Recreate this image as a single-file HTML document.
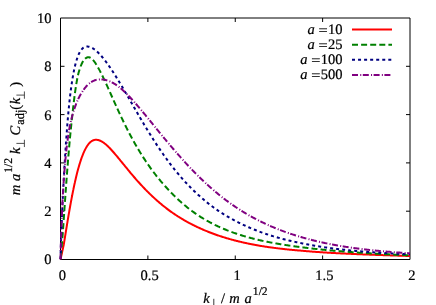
<!DOCTYPE html>
<html><head><meta charset="utf-8"><title>plot</title>
<style>
html,body{margin:0;padding:0;background:#fff;}
body{width:436px;height:305px;overflow:hidden;}
svg{display:block;will-change:transform;}
text{font-family:"Liberation Serif",serif;font-size:14.5px;fill:#000;text-rendering:geometricPrecision;stroke:#000;stroke-width:0.22px;}
.i{font-style:italic;}
.s{font-size:11.6px;}
</style></head><body>
<svg width="436" height="305" viewBox="0 0 436 305">
<rect width="436" height="305" fill="#fff"/>
<g stroke="#000" stroke-width="1" fill="none">
<path d="M60.5 18 H410 V259.5 H60.5 Z"/>
<path d="M147.88 259.5 v-4 M147.88 18 v4"/>
<path d="M235.25 259.5 v-4 M235.25 18 v4"/>
<path d="M322.62 259.5 v-4 M322.62 18 v4"/>
<path d="M60.5 211.20 h4 M410 211.20 h-4"/>
<path d="M60.5 162.90 h4 M410 162.90 h-4"/>
<path d="M60.5 114.60 h4 M410 114.60 h-4"/>
<path d="M60.5 66.30 h4 M410 66.30 h-4"/>
</g>
<g fill="none" stroke-width="2" stroke-linejoin="round">
<path d="M60.50 259.30 L60.62 258.81 L60.73 258.32 L60.85 257.82 L60.96 257.32 L61.08 256.81 L61.20 256.30 L61.31 255.79 L61.43 255.28 L61.54 254.76 L61.66 254.24 L61.78 253.72 L61.89 253.20 L62.01 252.67 L62.12 252.15 L62.24 251.62 L62.36 251.09 L62.47 250.56 L62.59 250.02 L62.71 249.49 L62.82 248.96 L62.94 248.42 L63.05 247.88 L63.17 247.34 L63.29 246.80 L63.40 246.26 L63.52 245.72 L63.63 245.18 L63.75 244.64 L63.85 244.09 L63.94 243.55 L64.03 243.00 L64.12 242.46 L64.20 241.91 L64.29 241.36 L64.38 240.82 L64.47 240.27 L64.56 239.72 L64.65 239.17 L64.74 238.63 L64.83 238.08 L64.91 237.53 L65.00 236.98 L65.09 236.43 L65.18 235.88 L65.27 235.34 L65.36 234.79 L65.45 234.24 L65.53 233.69 L65.62 233.14 L65.71 232.60 L65.80 232.05 L65.89 231.50 L65.98 230.96 L66.07 230.41 L66.16 229.86 L66.24 229.32 L66.33 228.77 L66.42 228.23 L66.51 227.69 L66.60 227.14 L66.69 226.60 L66.78 226.06 L66.86 225.52 L66.95 224.98 L67.04 224.44 L67.13 223.90 L67.22 223.36 L67.31 222.83 L67.40 222.29 L67.49 221.76 L67.57 221.22 L67.66 220.69 L67.75 220.16 L67.84 219.63 L67.93 219.10 L68.02 218.57 L68.11 218.04 L68.19 217.51 L68.28 216.99 L68.37 216.46 L68.46 215.94 L68.55 215.42 L68.64 214.90 L68.73 214.38 L68.82 213.86 L68.90 213.35 L68.99 212.83 L69.08 212.32 L69.17 211.81 L69.26 211.30 L69.35 210.79 L69.44 210.28 L69.52 209.78 L69.61 209.27 L69.70 208.77 L69.79 208.27 L69.88 207.77 L69.97 207.27 L70.06 206.77 L70.14 206.28 L70.23 205.78 L70.32 205.29 L70.41 204.80 L70.50 204.31 L70.59 203.83 L70.68 203.34 L70.77 202.86 L70.85 202.37 L70.94 201.89 L71.03 201.42 L71.12 200.94 L71.21 200.46 L71.30 199.99 L71.39 199.52 L71.47 199.05 L71.56 198.58 L71.65 198.11 L71.74 197.65 L71.83 197.19 L71.92 196.72 L72.01 196.26 L72.10 195.81 L72.18 195.35 L72.27 194.90 L72.36 194.44 L72.45 193.99 L72.54 193.55 L72.63 193.10 L72.72 192.65 L72.80 192.21 L72.89 191.77 L72.98 191.33 L73.07 190.89 L73.16 190.46 L73.25 190.02 L73.34 189.59 L73.43 189.16 L73.51 188.73 L73.60 188.31 L73.69 187.88 L73.78 187.46 L73.87 187.04 L73.96 186.62 L74.05 186.20 L74.13 185.79 L74.22 185.37 L74.31 184.96 L74.40 184.55 L74.49 184.15 L74.58 183.74 L74.67 183.34 L74.76 182.94 L74.84 182.54 L74.93 182.14 L75.02 181.74 L75.11 181.35 L75.20 180.96 L75.29 180.57 L75.38 180.18 L76.05 177.29 L76.72 174.52 L77.40 171.87 L78.07 169.34 L78.74 166.92 L79.41 164.62 L80.09 162.43 L80.76 160.35 L81.43 158.39 L82.10 156.53 L82.78 154.78 L83.45 153.15 L84.12 151.61 L84.79 150.19 L85.47 148.86 L86.14 147.64 L86.81 146.51 L87.48 145.48 L88.16 144.55 L88.83 143.70 L89.50 142.95 L90.17 142.28 L90.84 141.70 L91.52 141.21 L92.19 140.79 L92.86 140.45 L93.53 140.19 L94.21 139.99 L94.88 139.86 L95.55 139.80 L96.22 139.79 L96.90 139.85 L97.57 139.92 L98.24 140.05 L98.91 140.23 L99.59 140.46 L100.26 140.73 L100.93 141.05 L101.60 141.40 L102.28 141.80 L102.95 142.23 L103.62 142.69 L104.29 143.18 L104.96 143.71 L105.64 144.26 L106.31 144.84 L106.98 145.44 L107.65 146.07 L108.33 146.72 L109.00 147.38 L109.67 148.07 L110.34 148.77 L111.02 149.49 L111.69 150.22 L112.36 150.97 L113.03 151.72 L113.71 152.49 L114.38 153.26 L115.05 154.05 L115.72 154.84 L116.40 155.64 L117.07 156.44 L117.74 157.25 L118.41 158.07 L119.09 158.88 L119.76 159.70 L120.43 160.53 L121.10 161.35 L121.77 162.17 L122.45 162.99 L123.12 163.82 L123.79 164.64 L124.46 165.46 L125.14 166.28 L125.81 167.09 L126.48 167.92 L127.14 168.74 L127.81 169.56 L128.48 170.37 L129.14 171.18 L129.81 171.99 L130.47 172.79 L131.14 173.58 L131.81 174.38 L132.47 175.17 L133.14 175.95 L133.81 176.73 L134.47 177.50 L135.14 178.27 L135.81 179.04 L136.47 179.80 L137.14 180.55 L137.81 181.30 L138.47 182.04 L139.14 182.78 L139.80 183.51 L140.47 184.24 L141.14 184.96 L141.80 185.68 L142.47 186.39 L143.14 187.10 L143.80 187.80 L144.47 188.49 L145.14 189.18 L145.80 189.87 L146.47 190.54 L147.13 191.22 L147.80 191.88 L148.47 192.54 L149.13 193.20 L149.80 193.85 L150.47 194.50 L151.13 195.14 L151.80 195.77 L152.47 196.40 L153.13 197.02 L153.80 197.64 L154.47 198.25 L155.13 198.86 L155.80 199.46 L156.46 200.05 L157.13 200.64 L157.80 201.23 L158.46 201.81 L159.13 202.38 L159.80 202.95 L160.46 203.51 L161.13 204.07 L161.80 204.62 L162.46 205.17 L163.13 205.71 L163.79 206.25 L164.46 206.78 L165.13 207.31 L165.79 207.83 L166.46 208.35 L167.13 208.86 L167.79 209.37 L168.46 209.87 L169.13 210.37 L169.79 210.86 L170.46 211.35 L171.13 211.83 L171.80 212.30 L172.48 212.77 L173.15 213.23 L173.82 213.69 L174.49 214.14 L175.17 214.59 L175.84 215.03 L176.51 215.47 L177.18 215.90 L177.85 216.34 L178.53 216.76 L179.20 217.18 L179.87 217.60 L180.54 218.01 L181.22 218.42 L181.89 218.83 L182.56 219.23 L183.23 219.62 L183.91 220.02 L184.58 220.40 L185.25 220.79 L185.92 221.17 L186.60 221.54 L187.27 221.92 L187.94 222.28 L188.61 222.65 L189.29 223.01 L189.96 223.37 L190.63 223.72 L191.30 224.07 L191.97 224.41 L192.65 224.76 L193.32 225.09 L193.99 225.43 L194.66 225.76 L195.34 226.09 L196.01 226.41 L196.68 226.73 L197.35 227.05 L198.03 227.36 L198.70 227.67 L199.37 227.98 L200.04 228.28 L200.71 228.58 L201.38 228.88 L202.05 229.18 L202.71 229.47 L203.38 229.77 L204.05 230.05 L204.71 230.34 L205.38 230.62 L206.05 230.90 L206.72 231.17 L207.38 231.45 L208.05 231.72 L208.72 231.98 L209.38 232.25 L210.05 232.51 L210.72 232.77 L211.38 233.02 L212.05 233.27 L212.72 233.52 L213.38 233.77 L214.05 234.01 L214.72 234.26 L215.38 234.50 L216.05 234.73 L216.72 234.97 L217.38 235.20 L218.05 235.43 L218.72 235.65 L219.38 235.88 L220.05 236.10 L220.72 236.32 L221.38 236.54 L222.05 236.75 L222.72 236.96 L223.38 237.17 L224.05 237.38 L224.72 237.58 L225.39 237.79 L226.05 237.99 L226.72 238.19 L227.39 238.38 L228.05 238.58 L228.72 238.77 L229.39 238.96 L230.05 239.15 L230.72 239.34 L231.39 239.52 L232.05 239.70 L232.72 239.88 L233.39 240.06 L234.05 240.24 L234.72 240.41 L235.39 240.58 L236.05 240.75 L236.72 240.92 L237.39 241.09 L238.05 241.25 L238.72 241.42 L239.39 241.58 L240.05 241.74 L240.72 241.90 L241.39 242.05 L242.05 242.21 L242.72 242.36 L243.39 242.51 L244.05 242.66 L244.72 242.81 L245.39 242.96 L246.06 243.10 L246.72 243.24 L247.39 243.38 L248.06 243.52 L248.72 243.66 L249.39 243.80 L250.06 243.94 L250.72 244.07 L251.39 244.20 L252.06 244.33 L252.72 244.46 L253.39 244.59 L254.06 244.72 L254.72 244.85 L255.39 244.97 L256.06 245.09 L256.72 245.21 L257.39 245.33 L258.06 245.45 L258.72 245.57 L259.39 245.69 L260.06 245.80 L260.73 245.91 L261.40 246.02 L262.08 246.13 L262.75 246.24 L263.42 246.34 L264.09 246.45 L264.76 246.55 L265.44 246.65 L266.11 246.75 L266.78 246.85 L267.45 246.95 L268.13 247.05 L268.80 247.14 L269.47 247.24 L270.14 247.33 L270.82 247.43 L271.49 247.52 L272.16 247.61 L272.83 247.70 L273.51 247.79 L274.18 247.88 L274.85 247.96 L275.52 248.05 L276.20 248.13 L276.87 248.22 L277.54 248.30 L278.21 248.38 L278.88 248.46 L279.56 248.54 L280.23 248.62 L280.90 248.70 L281.57 248.78 L282.25 248.86 L282.92 248.93 L283.59 249.01 L284.26 249.08 L284.94 249.15 L285.61 249.22 L286.28 249.30 L286.95 249.37 L287.63 249.44 L288.30 249.51 L288.97 249.57 L289.64 249.64 L290.32 249.71 L290.99 249.77 L291.66 249.84 L292.33 249.90 L293.01 249.97 L293.68 250.03 L294.35 250.09 L295.02 250.15 L295.69 250.21 L296.37 250.27 L297.04 250.33 L297.71 250.39 L298.38 250.45 L299.06 250.51 L299.73 250.56 L300.40 250.62 L301.07 250.68 L301.75 250.75 L302.42 250.81 L303.09 250.87 L303.76 250.92 L304.44 250.98 L305.11 251.04 L305.78 251.10 L306.45 251.15 L307.13 251.21 L307.80 251.26 L308.47 251.32 L309.14 251.37 L309.81 251.43 L310.49 251.48 L311.16 251.53 L311.83 251.58 L312.50 251.64 L313.18 251.69 L313.85 251.74 L314.52 251.79 L315.19 251.84 L315.87 251.88 L316.54 251.93 L317.21 251.98 L317.88 252.03 L318.56 252.08 L319.23 252.12 L319.90 252.17 L320.57 252.21 L321.25 252.26 L321.92 252.30 L322.59 252.35 L323.26 252.39 L323.93 252.43 L324.61 252.48 L325.28 252.52 L325.95 252.56 L326.62 252.60 L327.30 252.64 L327.97 252.68 L328.64 252.72 L329.31 252.76 L329.99 252.80 L330.66 252.84 L331.33 252.88 L332.00 252.92 L332.68 252.95 L333.35 252.99 L334.02 253.03 L334.69 253.07 L335.37 253.10 L336.04 253.14 L336.71 253.18 L337.38 253.21 L338.05 253.25 L338.73 253.28 L339.40 253.32 L340.07 253.35 L340.74 253.38 L341.42 253.42 L342.09 253.45 L342.76 253.49 L343.43 253.52 L344.11 253.55 L344.78 253.58 L345.45 253.62 L346.12 253.65 L346.80 253.68 L347.47 253.71 L348.14 253.74 L348.81 253.77 L349.49 253.81 L350.16 253.84 L350.83 253.87 L351.50 253.90 L352.17 253.93 L352.85 253.96 L353.52 253.99 L354.19 254.02 L354.86 254.05 L355.54 254.08 L356.21 254.10 L356.88 254.13 L357.55 254.16 L358.23 254.19 L358.90 254.22 L359.57 254.25 L360.24 254.28 L360.92 254.30 L361.59 254.33 L362.26 254.36 L362.93 254.39 L363.61 254.41 L364.28 254.44 L364.95 254.47 L365.62 254.49 L366.29 254.52 L366.97 254.55 L367.64 254.57 L368.31 254.60 L368.98 254.62 L369.66 254.65 L370.33 254.68 L371.00 254.70 L371.67 254.73 L372.35 254.75 L373.02 254.78 L373.69 254.80 L374.36 254.83 L375.04 254.85 L375.71 254.88 L376.38 254.90 L377.05 254.93 L377.73 254.95 L378.40 254.98 L379.07 255.00 L379.74 255.02 L380.42 255.05 L381.09 255.07 L381.76 255.10 L382.43 255.12 L383.10 255.14 L383.78 255.17 L384.45 255.19 L385.12 255.21 L385.79 255.24 L386.47 255.26 L387.14 255.28 L387.81 255.31 L388.48 255.33 L389.16 255.35 L389.83 255.37 L390.50 255.40 L391.17 255.42 L391.85 255.44 L392.52 255.46 L393.19 255.48 L393.86 255.51 L394.54 255.53 L395.21 255.55 L395.88 255.57 L396.55 255.59 L397.22 255.61 L397.90 255.64 L398.57 255.66 L399.24 255.68 L399.91 255.70 L400.59 255.72 L401.26 255.74 L401.93 255.76 L402.60 255.78 L403.28 255.80 L403.95 255.82 L404.62 255.84 L405.29 255.87 L405.97 255.89 L406.64 255.91 L407.31 255.93 L407.98 255.95 L408.66 255.97 L409.33 255.99 L410.00 256.01" stroke="#ff0000"/>
<path d="M60.50 259.30 L60.60 258.52 L60.70 257.65 L60.80 256.71 L60.89 255.73 L60.99 254.71 L61.09 253.65 L61.19 252.57 L61.29 251.46 L61.39 250.33 L61.48 249.18 L61.58 248.01 L61.68 246.82 L61.78 245.62 L61.88 244.40 L61.98 243.17 L62.08 241.93 L62.17 240.68 L62.27 239.42 L62.37 238.15 L62.47 236.88 L62.57 235.59 L62.67 234.30 L62.76 233.01 L62.86 231.71 L62.96 230.41 L63.06 229.10 L63.16 227.79 L63.26 226.48 L63.35 225.16 L63.44 223.85 L63.53 222.53 L63.62 221.21 L63.71 219.89 L63.80 218.57 L63.89 217.25 L63.98 215.93 L64.07 214.62 L64.16 213.30 L64.25 211.99 L64.34 210.67 L64.43 209.36 L64.52 208.05 L64.61 206.75 L64.70 205.44 L64.79 204.14 L64.88 202.85 L64.97 201.55 L65.06 200.26 L65.15 198.98 L65.24 197.69 L65.33 196.41 L65.42 195.14 L65.51 193.87 L65.60 192.60 L65.69 191.34 L65.78 190.09 L65.87 188.84 L65.96 187.59 L66.05 186.35 L66.14 185.11 L66.23 183.88 L66.32 182.66 L66.41 181.44 L66.50 180.22 L66.59 179.01 L66.68 177.81 L66.77 176.61 L66.86 175.42 L66.95 174.24 L67.04 173.06 L67.13 171.88 L67.22 170.72 L67.31 169.56 L67.40 168.40 L67.49 167.25 L67.58 166.11 L67.67 164.98 L67.75 163.85 L67.84 162.72 L67.93 161.61 L68.02 160.50 L68.11 159.40 L68.20 158.30 L68.29 157.21 L68.38 156.12 L68.47 155.05 L68.56 153.98 L68.65 152.91 L68.74 151.86 L68.83 150.81 L68.92 149.76 L69.01 148.73 L69.10 147.70 L69.19 146.67 L69.28 145.66 L69.37 144.65 L69.46 143.65 L69.55 142.65 L69.64 141.66 L69.73 140.68 L69.82 139.71 L69.91 138.74 L70.00 137.78 L70.09 136.82 L70.18 135.87 L70.27 134.93 L70.36 134.00 L70.45 133.07 L70.54 132.15 L70.63 131.24 L70.72 130.33 L70.81 129.43 L70.90 128.54 L70.99 127.66 L71.08 126.78 L71.17 125.91 L71.26 125.04 L71.35 124.18 L71.44 123.33 L71.53 122.49 L71.62 121.65 L71.71 120.82 L71.80 119.99 L71.89 119.18 L71.98 118.37 L72.07 117.56 L72.16 116.76 L72.25 115.97 L72.34 115.19 L72.43 114.41 L72.52 113.64 L72.60 112.88 L72.67 112.12 L72.75 111.37 L72.83 110.62 L72.91 109.89 L72.99 109.16 L73.07 108.43 L73.15 107.71 L73.23 107.00 L73.31 106.29 L73.39 105.60 L73.47 104.90 L73.55 104.22 L73.62 103.54 L73.70 102.86 L73.78 102.20 L73.86 101.53 L73.94 100.88 L74.02 100.23 L74.10 99.59 L74.18 98.95 L74.26 98.32 L74.34 97.70 L74.42 97.08 L74.49 96.47 L74.57 95.86 L74.65 95.26 L74.73 94.67 L75.34 90.32 L75.94 86.30 L76.55 82.61 L77.15 79.23 L77.76 76.15 L78.45 73.35 L79.16 70.83 L79.87 68.56 L80.58 66.54 L81.30 64.75 L82.01 63.19 L82.72 61.83 L83.43 60.67 L84.15 59.70 L84.86 58.91 L85.57 58.29 L86.29 57.82 L87.00 57.50 L87.71 57.32 L88.42 57.27 L89.07 57.33 L89.71 57.51 L90.35 57.79 L90.99 58.17 L91.63 58.65 L92.26 59.22 L92.90 59.87 L93.54 60.59 L94.18 61.39 L94.82 62.26 L95.46 63.18 L96.10 64.17 L96.74 65.21 L97.37 66.31 L98.01 67.45 L98.69 68.63 L99.36 69.86 L100.03 71.13 L100.70 72.43 L101.38 73.75 L102.05 75.11 L102.72 76.49 L103.39 77.90 L104.07 79.32 L104.75 80.76 L105.43 82.22 L106.11 83.69 L106.79 85.17 L107.47 86.67 L108.15 88.17 L108.83 89.68 L109.51 91.19 L110.19 92.71 L110.87 94.23 L111.55 95.76 L112.24 97.28 L112.92 98.80 L113.60 100.32 L114.28 101.84 L114.96 103.35 L115.64 104.86 L116.32 106.37 L117.00 107.86 L117.69 109.35 L118.37 110.84 L119.05 112.31 L119.73 113.78 L120.41 115.24 L121.09 116.68 L121.77 118.12 L122.46 119.55 L123.14 120.97 L123.82 122.37 L124.50 123.76 L125.18 125.15 L125.86 126.52 L126.54 127.87 L127.23 129.22 L127.91 130.55 L128.59 131.87 L129.27 133.18 L129.95 134.47 L130.63 135.75 L131.31 137.02 L131.99 138.28 L132.68 139.52 L133.36 140.76 L134.04 141.98 L134.72 143.19 L135.40 144.38 L136.08 145.57 L136.76 146.74 L137.45 147.90 L138.13 149.05 L138.81 150.19 L139.49 151.32 L140.17 152.43 L140.85 153.53 L141.53 154.63 L142.21 155.71 L142.90 156.78 L143.58 157.84 L144.26 158.89 L144.95 159.92 L145.63 160.95 L146.31 161.97 L147.00 162.97 L147.68 163.97 L148.36 164.95 L149.05 165.93 L149.73 166.89 L150.41 167.85 L151.09 168.79 L151.78 169.73 L152.46 170.65 L153.14 171.57 L153.83 172.48 L154.51 173.37 L155.19 174.26 L155.88 175.14 L156.56 176.01 L157.24 176.87 L157.93 177.72 L158.61 178.56 L159.29 179.39 L159.98 180.22 L160.66 181.03 L161.34 181.84 L162.03 182.64 L162.71 183.43 L163.39 184.21 L164.07 184.98 L164.76 185.75 L165.44 186.50 L166.12 187.25 L166.81 188.00 L167.49 188.73 L168.16 189.45 L168.82 190.17 L169.48 190.88 L170.14 191.58 L170.80 192.27 L171.47 192.96 L172.13 193.64 L172.79 194.31 L173.45 194.97 L174.11 195.63 L174.77 196.28 L175.43 196.93 L176.09 197.56 L176.75 198.19 L177.41 198.82 L178.07 199.44 L178.73 200.05 L179.39 200.65 L180.05 201.25 L180.71 201.84 L181.37 202.42 L182.03 203.00 L182.69 203.58 L183.35 204.14 L184.01 204.70 L184.67 205.26 L185.33 205.80 L185.99 206.35 L186.65 206.88 L187.31 207.41 L187.97 207.94 L188.63 208.46 L189.29 208.97 L189.95 209.48 L190.61 209.98 L191.27 210.48 L191.93 210.97 L192.59 211.45 L193.25 211.93 L193.91 212.41 L194.57 212.88 L195.23 213.34 L195.89 213.80 L196.55 214.25 L197.21 214.70 L197.87 215.14 L198.53 215.58 L199.19 216.02 L199.85 216.45 L200.51 216.87 L201.18 217.29 L201.85 217.70 L202.52 218.11 L203.19 218.51 L203.86 218.91 L204.53 219.31 L205.20 219.70 L205.87 220.08 L206.54 220.46 L207.21 220.84 L207.87 221.21 L208.54 221.58 L209.21 221.94 L209.88 222.30 L210.55 222.66 L211.22 223.01 L211.89 223.36 L212.56 223.70 L213.23 224.04 L213.90 224.38 L214.56 224.71 L215.23 225.04 L215.90 225.36 L216.57 225.68 L217.24 226.00 L217.91 226.31 L218.58 226.62 L219.25 226.93 L219.92 227.23 L220.59 227.53 L221.25 227.83 L221.92 228.12 L222.59 228.41 L223.26 228.69 L223.93 228.98 L224.60 229.26 L225.27 229.53 L225.94 229.80 L226.61 230.07 L227.28 230.34 L227.94 230.60 L228.61 230.86 L229.28 231.12 L229.95 231.38 L230.62 231.63 L231.29 231.88 L231.96 232.12 L232.63 232.36 L233.30 232.60 L233.97 232.84 L234.64 233.08 L235.30 233.31 L235.97 233.54 L236.64 233.76 L237.31 233.99 L237.98 234.21 L238.65 234.43 L239.32 234.65 L239.99 234.86 L240.66 235.07 L241.33 235.28 L241.99 235.49 L242.66 235.69 L243.33 235.89 L244.00 236.09 L244.67 236.29 L245.34 236.48 L246.01 236.68 L246.68 236.87 L247.35 237.06 L248.02 237.24 L248.68 237.43 L249.35 237.61 L250.02 237.79 L250.69 237.97 L251.36 238.14 L252.03 238.32 L252.70 238.49 L253.37 238.66 L254.04 238.83 L254.71 239.00 L255.37 239.16 L256.04 239.33 L256.71 239.49 L257.38 239.65 L258.05 239.81 L258.72 239.96 L259.39 240.12 L260.06 240.27 L260.73 240.42 L261.40 240.57 L262.08 240.72 L262.75 240.86 L263.42 241.01 L264.09 241.15 L264.76 241.29 L265.44 241.43 L266.11 241.57 L266.78 241.70 L267.45 241.84 L268.13 241.97 L268.80 242.11 L269.47 242.24 L270.14 242.37 L270.82 242.50 L271.49 242.62 L272.16 242.75 L272.83 242.87 L273.51 243.00 L274.18 243.12 L274.85 243.24 L275.52 243.36 L276.20 243.48 L276.87 243.60 L277.54 243.71 L278.21 243.83 L278.88 243.94 L279.56 244.06 L280.23 244.17 L280.90 244.28 L281.57 244.39 L282.25 244.50 L282.92 244.61 L283.59 244.71 L284.26 244.82 L284.94 244.92 L285.61 245.03 L286.28 245.13 L286.95 245.23 L287.63 245.33 L288.30 245.43 L288.97 245.53 L289.64 245.63 L290.32 245.73 L290.99 245.82 L291.66 245.92 L292.33 246.02 L293.01 246.11 L293.68 246.20 L294.35 246.29 L295.02 246.39 L295.69 246.48 L296.37 246.57 L297.04 246.65 L297.71 246.74 L298.38 246.83 L299.06 246.92 L299.73 247.00 L300.40 247.09 L301.07 247.18 L301.75 247.26 L302.42 247.35 L303.09 247.44 L303.76 247.52 L304.44 247.61 L305.11 247.69 L305.78 247.77 L306.45 247.86 L307.13 247.94 L307.80 248.02 L308.47 248.10 L309.14 248.18 L309.81 248.26 L310.49 248.34 L311.16 248.41 L311.83 248.49 L312.50 248.57 L313.18 248.64 L313.85 248.72 L314.52 248.79 L315.19 248.87 L315.87 248.94 L316.54 249.01 L317.21 249.08 L317.88 249.16 L318.56 249.23 L319.23 249.30 L319.90 249.37 L320.57 249.44 L321.25 249.51 L321.92 249.57 L322.59 249.64 L323.26 249.71 L323.93 249.78 L324.61 249.84 L325.28 249.91 L325.95 249.97 L326.62 250.04 L327.30 250.10 L327.97 250.17 L328.64 250.23 L329.31 250.29 L329.99 250.35 L330.66 250.42 L331.33 250.48 L332.00 250.54 L332.68 250.60 L333.35 250.66 L334.02 250.72 L334.69 250.78 L335.37 250.83 L336.04 250.89 L336.71 250.95 L337.38 251.01 L338.05 251.06 L338.73 251.12 L339.40 251.18 L340.07 251.23 L340.74 251.29 L341.42 251.34 L342.09 251.40 L342.76 251.45 L343.43 251.50 L344.11 251.56 L344.78 251.61 L345.45 251.66 L346.12 251.71 L346.80 251.77 L347.47 251.82 L348.14 251.87 L348.81 251.92 L349.49 251.97 L350.16 252.02 L350.83 252.07 L351.50 252.12 L352.17 252.16 L352.85 252.21 L353.52 252.26 L354.19 252.31 L354.86 252.36 L355.54 252.40 L356.21 252.45 L356.88 252.50 L357.55 252.54 L358.23 252.59 L358.90 252.63 L359.57 252.68 L360.24 252.72 L360.92 252.77 L361.59 252.81 L362.26 252.85 L362.93 252.90 L363.61 252.94 L364.28 252.98 L364.95 253.03 L365.62 253.07 L366.29 253.11 L366.97 253.15 L367.64 253.19 L368.31 253.23 L368.98 253.28 L369.66 253.32 L370.33 253.36 L371.00 253.40 L371.67 253.44 L372.35 253.47 L373.02 253.51 L373.69 253.55 L374.36 253.59 L375.04 253.63 L375.71 253.67 L376.38 253.71 L377.05 253.74 L377.73 253.78 L378.40 253.82 L379.07 253.85 L379.74 253.89 L380.42 253.93 L381.09 253.96 L381.76 254.00 L382.43 254.03 L383.10 254.07 L383.78 254.10 L384.45 254.14 L385.12 254.17 L385.79 254.21 L386.47 254.24 L387.14 254.27 L387.81 254.31 L388.48 254.34 L389.16 254.37 L389.83 254.41 L390.50 254.44 L391.17 254.47 L391.85 254.50 L392.52 254.53 L393.19 254.57 L393.86 254.60 L394.54 254.63 L395.21 254.66 L395.88 254.69 L396.55 254.72 L397.22 254.75 L397.90 254.78 L398.57 254.81 L399.24 254.84 L399.91 254.87 L400.59 254.90 L401.26 254.93 L401.93 254.96 L402.60 254.99 L403.28 255.01 L403.95 255.04 L404.62 255.07 L405.29 255.10 L405.97 255.13 L406.64 255.15 L407.31 255.18 L407.98 255.21 L408.66 255.23 L409.33 255.26 L410.00 255.29" stroke="#008000" stroke-dasharray="6 3.1" stroke-dashoffset="6.1"/>
<path d="M60.50 259.30 L60.58 255.91 L60.66 252.89 L60.74 250.07 L60.82 247.39 L60.90 244.81 L60.99 242.33 L61.07 239.92 L61.15 237.57 L61.23 235.28 L61.31 233.04 L61.39 230.84 L61.47 228.69 L61.55 226.57 L61.63 224.49 L61.71 222.44 L61.79 220.42 L61.88 218.43 L61.96 216.46 L62.04 214.52 L62.12 212.60 L62.20 210.71 L62.28 208.83 L62.36 206.98 L62.44 205.15 L62.52 203.33 L62.60 201.54 L62.68 199.76 L62.76 198.00 L62.85 196.25 L62.94 194.53 L63.03 192.81 L63.11 191.12 L63.20 189.43 L63.29 187.77 L63.38 186.12 L63.47 184.48 L63.55 182.85 L63.64 181.24 L63.73 179.65 L63.82 178.06 L63.90 176.49 L63.99 174.93 L64.08 173.39 L64.17 171.86 L64.26 170.34 L64.34 168.83 L64.43 167.34 L64.52 165.86 L64.61 164.39 L64.70 162.93 L64.78 161.49 L64.87 160.06 L64.96 158.64 L65.05 157.23 L65.14 155.83 L65.22 154.45 L65.31 153.07 L65.40 151.71 L65.49 150.37 L65.58 149.03 L65.66 147.70 L65.75 146.39 L65.84 145.09 L65.93 143.80 L66.02 142.52 L66.10 141.25 L66.19 140.00 L66.28 138.76 L66.37 137.52 L66.45 136.31 L66.54 135.10 L66.63 133.90 L66.72 132.72 L66.81 131.54 L66.89 130.38 L66.98 129.23 L67.07 128.10 L67.16 126.97 L67.25 125.86 L67.33 124.75 L67.42 123.66 L67.51 122.59 L67.60 121.52 L67.69 120.46 L67.77 119.42 L67.86 118.39 L67.95 117.37 L68.04 116.36 L68.13 115.36 L68.21 114.38 L68.30 113.40 L68.39 112.44 L68.48 111.48 L68.56 110.54 L68.65 109.61 L68.74 108.69 L68.83 107.78 L68.92 106.88 L69.00 105.99 L69.09 105.11 L69.18 104.24 L69.27 103.38 L69.36 102.53 L69.44 101.69 L69.53 100.86 L69.62 100.04 L69.71 99.23 L69.80 98.43 L69.89 97.64 L69.98 96.86 L70.07 96.09 L70.16 95.33 L70.25 94.58 L70.34 93.83 L70.44 93.10 L70.53 92.37 L70.62 91.65 L70.71 90.95 L70.80 90.25 L70.89 89.55 L70.98 88.87 L71.08 88.20 L71.17 87.53 L71.26 86.87 L71.35 86.22 L71.44 85.58 L71.53 84.94 L71.62 84.32 L71.72 83.70 L71.81 83.09 L71.90 82.48 L71.99 81.89 L72.08 81.30 L72.17 80.72 L72.26 80.14 L72.36 79.57 L72.45 79.01 L72.54 78.46 L72.63 77.92 L72.72 77.38 L72.81 76.85 L72.90 76.32 L73.00 75.80 L73.09 75.29 L73.18 74.79 L73.27 74.29 L73.36 73.80 L73.45 73.31 L73.54 72.83 L73.64 72.36 L73.73 71.89 L73.82 71.43 L73.91 70.98 L74.00 70.53 L74.09 70.09 L74.18 69.65 L74.28 69.22 L74.37 68.79 L74.46 68.37 L75.16 65.35 L75.86 62.64 L76.56 60.22 L77.26 58.05 L77.96 56.13 L78.65 54.44 L79.35 52.95 L80.05 51.66 L80.75 50.55 L81.45 49.61 L82.15 48.81 L82.84 48.16 L83.54 47.63 L84.24 47.22 L84.94 46.91 L85.63 46.70 L86.33 46.57 L87.03 46.53 L87.73 46.56 L88.42 46.66 L89.08 46.77 L89.72 46.93 L90.36 47.14 L91.01 47.39 L91.65 47.69 L92.30 48.02 L92.94 48.39 L93.59 48.80 L94.23 49.24 L94.87 49.72 L95.52 50.22 L96.16 50.76 L96.81 51.33 L97.45 51.92 L98.10 52.55 L98.74 53.19 L99.38 53.87 L100.03 54.56 L100.69 55.28 L101.35 56.02 L102.01 56.78 L102.67 57.56 L103.32 58.36 L103.98 59.19 L104.64 60.02 L105.30 60.88 L105.96 61.75 L106.62 62.64 L107.28 63.55 L107.94 64.47 L108.60 65.40 L109.26 66.35 L109.91 67.31 L110.57 68.29 L111.23 69.27 L111.89 70.27 L112.55 71.28 L113.21 72.31 L113.87 73.34 L114.53 74.38 L115.20 75.44 L115.89 76.52 L116.57 77.61 L117.26 78.71 L117.94 79.81 L118.62 80.92 L119.31 82.04 L119.99 83.17 L120.68 84.30 L121.36 85.44 L122.04 86.59 L122.73 87.74 L123.41 88.90 L124.09 90.06 L124.78 91.23 L125.46 92.40 L126.15 93.57 L126.83 94.75 L127.51 95.93 L128.20 97.12 L128.88 98.31 L129.57 99.50 L130.25 100.69 L130.93 101.88 L131.62 103.07 L132.30 104.26 L132.99 105.46 L133.67 106.65 L134.35 107.84 L135.04 109.03 L135.72 110.22 L136.41 111.40 L137.09 112.58 L137.77 113.76 L138.46 114.94 L139.14 116.12 L139.82 117.29 L140.51 118.45 L141.19 119.62 L141.88 120.78 L142.56 121.93 L143.24 123.08 L143.93 124.22 L144.61 125.36 L145.30 126.50 L145.98 127.63 L146.66 128.75 L147.35 129.87 L148.03 130.98 L148.72 132.09 L149.40 133.19 L150.08 134.28 L150.76 135.37 L151.43 136.45 L152.10 137.53 L152.78 138.59 L153.45 139.66 L154.12 140.71 L154.79 141.76 L155.47 142.80 L156.14 143.83 L156.81 144.86 L157.48 145.88 L158.16 146.89 L158.83 147.90 L159.50 148.90 L160.17 149.89 L160.85 150.87 L161.52 151.85 L162.19 152.82 L162.86 153.78 L163.53 154.74 L164.21 155.68 L164.88 156.62 L165.55 157.56 L166.22 158.49 L166.89 159.41 L167.56 160.33 L168.22 161.24 L168.89 162.14 L169.56 163.03 L170.23 163.92 L170.90 164.80 L171.57 165.67 L172.23 166.53 L172.90 167.39 L173.57 168.24 L174.24 169.08 L174.91 169.91 L175.58 170.74 L176.24 171.56 L176.91 172.38 L177.58 173.18 L178.25 173.98 L178.92 174.77 L179.59 175.56 L180.25 176.34 L180.92 177.11 L181.59 177.87 L182.26 178.63 L182.93 179.38 L183.60 180.12 L184.26 180.86 L184.93 181.59 L185.60 182.32 L186.27 183.03 L186.94 183.75 L187.61 184.45 L188.27 185.15 L188.94 185.84 L189.61 186.53 L190.28 187.21 L190.95 187.88 L191.62 188.55 L192.28 189.21 L192.95 189.87 L193.62 190.52 L194.29 191.16 L194.96 191.80 L195.63 192.43 L196.29 193.06 L196.96 193.68 L197.63 194.30 L198.30 194.91 L198.97 195.51 L199.64 196.11 L200.30 196.71 L200.97 197.30 L201.64 197.88 L202.31 198.46 L202.98 199.03 L203.65 199.60 L204.31 200.16 L204.98 200.72 L205.65 201.27 L206.32 201.82 L206.99 202.36 L207.66 202.90 L208.32 203.43 L208.99 203.96 L209.66 204.48 L210.33 205.00 L211.00 205.52 L211.67 206.02 L212.33 206.53 L213.00 207.03 L213.67 207.52 L214.34 208.02 L215.01 208.50 L215.68 208.97 L216.35 209.43 L217.03 209.89 L217.70 210.35 L218.37 210.80 L219.04 211.24 L219.72 211.69 L220.39 212.12 L221.06 212.56 L221.73 212.99 L222.40 213.41 L223.08 213.84 L223.75 214.25 L224.42 214.67 L225.09 215.08 L225.77 215.49 L226.44 215.89 L227.11 216.29 L227.78 216.68 L228.46 217.07 L229.13 217.46 L229.80 217.84 L230.47 218.22 L231.15 218.60 L231.82 218.98 L232.49 219.34 L233.16 219.71 L233.84 220.07 L234.51 220.43 L235.18 220.79 L235.85 221.14 L236.52 221.49 L237.20 221.84 L237.87 222.18 L238.54 222.52 L239.21 222.86 L239.89 223.19 L240.56 223.52 L241.23 223.85 L241.90 224.17 L242.58 224.49 L243.25 224.81 L243.92 225.12 L244.59 225.43 L245.27 225.74 L245.94 226.05 L246.61 226.35 L247.28 226.65 L247.96 226.95 L248.63 227.24 L249.30 227.53 L249.97 227.82 L250.64 228.11 L251.32 228.39 L251.99 228.67 L252.66 228.95 L253.33 229.23 L254.01 229.50 L254.68 229.77 L255.35 230.03 L256.02 230.30 L256.70 230.56 L257.37 230.82 L258.04 231.08 L258.71 231.33 L259.39 231.58 L260.06 231.83 L260.73 232.08 L261.40 232.32 L262.08 232.57 L262.75 232.81 L263.42 233.04 L264.09 233.28 L264.76 233.51 L265.44 233.74 L266.11 233.97 L266.78 234.20 L267.45 234.42 L268.13 234.64 L268.80 234.86 L269.47 235.08 L270.14 235.29 L270.82 235.51 L271.49 235.72 L272.16 235.92 L272.83 236.13 L273.51 236.34 L274.18 236.54 L274.85 236.74 L275.52 236.94 L276.20 237.13 L276.87 237.33 L277.54 237.52 L278.21 237.71 L278.88 237.90 L279.56 238.08 L280.23 238.27 L280.90 238.45 L281.57 238.63 L282.25 238.81 L282.92 238.99 L283.59 239.16 L284.26 239.34 L284.94 239.51 L285.61 239.68 L286.28 239.84 L286.95 240.01 L287.63 240.18 L288.30 240.34 L288.97 240.50 L289.64 240.66 L290.32 240.82 L290.99 240.97 L291.66 241.13 L292.33 241.28 L293.01 241.43 L293.68 241.58 L294.35 241.73 L295.02 241.88 L295.69 242.02 L296.37 242.17 L297.04 242.31 L297.71 242.45 L298.38 242.59 L299.06 242.73 L299.73 242.86 L300.40 243.00 L301.07 243.14 L301.75 243.28 L302.42 243.42 L303.09 243.56 L303.76 243.69 L304.44 243.83 L305.11 243.96 L305.78 244.09 L306.45 244.22 L307.13 244.35 L307.80 244.48 L308.47 244.60 L309.14 244.73 L309.81 244.85 L310.49 244.97 L311.16 245.10 L311.83 245.22 L312.50 245.33 L313.18 245.45 L313.85 245.57 L314.52 245.68 L315.19 245.80 L315.87 245.91 L316.54 246.02 L317.21 246.13 L317.88 246.24 L318.56 246.35 L319.23 246.46 L319.90 246.57 L320.57 246.67 L321.25 246.78 L321.92 246.88 L322.59 246.98 L323.26 247.08 L323.93 247.18 L324.61 247.28 L325.28 247.38 L325.95 247.48 L326.62 247.57 L327.30 247.67 L327.97 247.76 L328.64 247.86 L329.31 247.95 L329.99 248.04 L330.66 248.13 L331.33 248.22 L332.00 248.31 L332.68 248.40 L333.35 248.49 L334.02 248.57 L334.69 248.66 L335.37 248.74 L336.04 248.82 L336.71 248.91 L337.38 248.99 L338.05 249.07 L338.73 249.15 L339.40 249.23 L340.07 249.31 L340.74 249.39 L341.42 249.46 L342.09 249.54 L342.76 249.61 L343.43 249.69 L344.11 249.76 L344.78 249.84 L345.45 249.91 L346.12 249.98 L346.80 250.05 L347.47 250.12 L348.14 250.19 L348.81 250.26 L349.49 250.32 L350.16 250.39 L350.83 250.46 L351.50 250.52 L352.17 250.59 L352.85 250.65 L353.52 250.72 L354.19 250.78 L354.86 250.84 L355.54 250.90 L356.21 250.96 L356.88 251.02 L357.55 251.08 L358.23 251.14 L358.90 251.20 L359.57 251.26 L360.24 251.31 L360.92 251.37 L361.59 251.43 L362.26 251.48 L362.93 251.54 L363.61 251.59 L364.28 251.64 L364.95 251.70 L365.62 251.75 L366.29 251.80 L366.97 251.85 L367.64 251.90 L368.31 251.95 L368.98 252.00 L369.66 252.05 L370.33 252.10 L371.00 252.15 L371.67 252.19 L372.35 252.24 L373.02 252.29 L373.69 252.33 L374.36 252.38 L375.04 252.42 L375.71 252.47 L376.38 252.51 L377.05 252.55 L377.73 252.60 L378.40 252.64 L379.07 252.68 L379.74 252.72 L380.42 252.76 L381.09 252.80 L381.76 252.84 L382.43 252.88 L383.10 252.92 L383.78 252.96 L384.45 253.00 L385.12 253.04 L385.79 253.07 L386.47 253.11 L387.14 253.15 L387.81 253.18 L388.48 253.22 L389.16 253.25 L389.83 253.29 L390.50 253.32 L391.17 253.36 L391.85 253.39 L392.52 253.43 L393.19 253.46 L393.86 253.49 L394.54 253.52 L395.21 253.55 L395.88 253.59 L396.55 253.62 L397.22 253.65 L397.90 253.68 L398.57 253.71 L399.24 253.74 L399.91 253.77 L400.59 253.80 L401.26 253.83 L401.93 253.85 L402.60 253.88 L403.28 253.91 L403.95 253.94 L404.62 253.96 L405.29 253.99 L405.97 254.02 L406.64 254.04 L407.31 254.07 L407.98 254.10 L408.66 254.12 L409.33 254.15 L410.00 254.17" stroke="#000080" stroke-dasharray="3 3.05"/>
<path d="M60.50 259.30 L60.58 255.79 L60.66 252.55 L60.74 249.48 L60.82 246.54 L60.90 243.72 L60.99 241.00 L61.07 238.38 L61.15 235.83 L61.23 233.36 L61.31 230.97 L61.39 228.64 L61.47 226.37 L61.55 224.16 L61.63 222.01 L61.71 219.91 L61.79 217.86 L61.88 215.86 L61.96 213.90 L62.04 211.99 L62.12 210.12 L62.20 208.30 L62.28 206.51 L62.36 204.76 L62.44 203.04 L62.52 201.36 L62.60 199.72 L62.68 198.10 L62.76 196.52 L62.85 194.97 L62.94 193.45 L63.02 191.96 L63.11 190.49 L63.20 189.06 L63.28 187.65 L63.37 186.26 L63.46 184.90 L63.54 183.57 L63.63 182.26 L63.72 180.97 L63.80 179.70 L63.89 178.46 L63.98 177.24 L64.06 176.03 L64.15 174.85 L64.24 173.69 L64.32 172.55 L64.41 171.42 L64.50 170.32 L64.58 169.23 L64.67 168.16 L64.76 167.11 L64.84 166.07 L64.93 165.05 L65.02 164.05 L65.10 163.06 L65.19 162.09 L65.28 161.13 L65.36 160.19 L65.45 159.26 L65.54 158.35 L65.62 157.45 L65.71 156.56 L65.80 155.69 L65.88 154.83 L65.97 153.98 L66.06 153.14 L66.14 152.32 L66.23 151.51 L66.32 150.71 L66.40 149.92 L66.49 149.15 L66.58 148.38 L66.66 147.62 L66.75 146.88 L66.84 146.15 L66.92 145.42 L67.01 144.71 L67.10 144.00 L67.18 143.31 L67.27 142.63 L67.36 141.95 L67.44 141.28 L67.53 140.63 L67.62 139.98 L67.70 139.34 L67.79 138.71 L67.88 138.08 L67.96 137.47 L68.05 136.86 L68.14 136.26 L68.22 135.67 L68.31 135.09 L68.40 134.51 L68.48 133.94 L68.57 133.38 L68.66 132.83 L68.74 132.28 L68.83 131.74 L68.92 131.20 L69.00 130.68 L69.09 130.16 L69.18 129.64 L69.26 129.13 L69.35 128.63 L69.44 128.14 L69.52 127.65 L69.61 127.16 L69.70 126.68 L69.79 126.21 L69.89 125.74 L69.98 125.28 L70.08 124.83 L70.18 124.38 L70.27 123.93 L70.37 123.49 L70.46 123.05 L70.56 122.62 L70.66 122.20 L70.75 121.78 L70.85 121.36 L70.94 120.95 L71.04 120.54 L71.14 120.14 L71.23 119.74 L71.33 119.35 L71.42 118.96 L71.52 118.57 L71.62 118.19 L71.71 117.82 L71.81 117.44 L71.90 117.07 L72.00 116.71 L72.10 116.35 L72.19 115.99 L72.29 115.64 L72.38 115.29 L72.48 114.94 L72.58 114.60 L72.67 114.26 L72.77 113.92 L72.86 113.59 L72.96 113.26 L73.06 112.93 L73.15 112.61 L73.25 112.29 L73.35 111.97 L73.44 111.66 L73.54 111.35 L73.63 111.04 L73.73 110.73 L73.83 110.43 L73.92 110.13 L74.02 109.83 L74.11 109.54 L74.21 109.25 L74.31 108.96 L74.40 108.67 L74.50 108.39 L74.59 108.11 L75.33 106.04 L76.06 104.10 L76.80 102.27 L77.53 100.56 L78.27 98.95 L79.00 97.44 L79.73 96.02 L80.47 94.67 L81.20 93.41 L81.94 92.23 L82.67 91.11 L83.41 90.06 L84.12 89.08 L84.79 88.18 L85.47 87.33 L86.14 86.53 L86.81 85.79 L87.48 85.10 L88.16 84.45 L88.83 83.86 L89.50 83.30 L90.17 82.79 L90.84 82.32 L91.52 81.89 L92.19 81.50 L92.86 81.15 L93.53 80.83 L94.21 80.55 L94.88 80.30 L95.55 80.08 L96.22 79.90 L96.90 79.74 L97.57 79.62 L98.24 79.52 L98.91 79.46 L99.59 79.42 L100.26 79.41 L100.93 79.43 L101.61 79.43 L102.28 79.46 L102.96 79.52 L103.63 79.60 L104.31 79.71 L104.99 79.83 L105.66 79.98 L106.34 80.16 L107.01 80.35 L107.69 80.56 L108.36 80.80 L109.04 81.06 L109.72 81.33 L110.39 81.63 L111.07 81.94 L111.74 82.28 L112.42 82.63 L113.09 83.00 L113.77 83.39 L114.45 83.80 L115.12 84.22 L115.80 84.66 L116.47 85.11 L117.15 85.59 L117.82 86.07 L118.50 86.58 L119.18 87.09 L119.85 87.63 L120.53 88.17 L121.20 88.74 L121.88 89.33 L122.55 89.93 L123.23 90.55 L123.90 91.17 L124.58 91.81 L125.25 92.46 L125.93 93.12 L126.60 93.79 L127.27 94.47 L127.95 95.16 L128.62 95.85 L129.30 96.56 L129.97 97.27 L130.65 97.99 L131.32 98.72 L132.00 99.46 L132.67 100.20 L133.35 100.95 L134.02 101.70 L134.70 102.46 L135.37 103.23 L136.04 104.00 L136.72 104.78 L137.39 105.56 L138.07 106.34 L138.74 107.13 L139.42 107.93 L140.09 108.72 L140.77 109.52 L141.44 110.33 L142.12 111.14 L142.79 111.95 L143.47 112.76 L144.14 113.57 L144.81 114.39 L145.49 115.21 L146.16 116.03 L146.84 116.85 L147.51 117.68 L148.19 118.50 L148.86 119.33 L149.54 120.16 L150.21 120.98 L150.89 121.81 L151.56 122.64 L152.23 123.47 L152.90 124.30 L153.58 125.13 L154.25 125.96 L154.92 126.79 L155.59 127.62 L156.27 128.45 L156.94 129.28 L157.61 130.10 L158.28 130.93 L158.96 131.76 L159.63 132.58 L160.30 133.41 L160.97 134.23 L161.65 135.05 L162.32 135.87 L162.99 136.69 L163.66 137.50 L164.33 138.32 L165.01 139.13 L165.68 139.94 L166.35 140.75 L167.02 141.56 L167.70 142.37 L168.37 143.17 L169.04 143.97 L169.71 144.77 L170.39 145.56 L171.06 146.36 L171.73 147.15 L172.40 147.94 L173.08 148.73 L173.75 149.51 L174.42 150.29 L175.09 151.07 L175.77 151.84 L176.44 152.62 L177.11 153.39 L177.78 154.15 L178.45 154.92 L179.13 155.68 L179.80 156.44 L180.47 157.19 L181.14 157.94 L181.81 158.69 L182.47 159.43 L183.14 160.17 L183.80 160.90 L184.47 161.64 L185.13 162.37 L185.79 163.09 L186.46 163.81 L187.12 164.53 L187.79 165.25 L188.45 165.96 L189.12 166.67 L189.78 167.38 L190.44 168.08 L191.11 168.78 L191.77 169.47 L192.44 170.16 L193.10 170.85 L193.77 171.53 L194.43 172.21 L195.09 172.89 L195.76 173.56 L196.42 174.23 L197.09 174.90 L197.75 175.56 L198.42 176.22 L199.08 176.87 L199.74 177.52 L200.41 178.17 L201.07 178.81 L201.74 179.45 L202.40 180.09 L203.07 180.72 L203.73 181.34 L204.39 181.97 L205.06 182.59 L205.72 183.20 L206.39 183.82 L207.05 184.43 L207.72 185.03 L208.38 185.63 L209.05 186.23 L209.71 186.82 L210.37 187.41 L211.04 188.00 L211.70 188.58 L212.37 189.16 L213.03 189.73 L213.70 190.30 L214.36 190.87 L215.02 191.43 L215.69 191.99 L216.35 192.55 L217.02 193.10 L217.68 193.64 L218.35 194.19 L219.01 194.73 L219.67 195.27 L220.34 195.80 L221.00 196.33 L221.67 196.85 L222.33 197.37 L223.00 197.89 L223.66 198.41 L224.32 198.92 L224.99 199.42 L225.65 199.93 L226.32 200.43 L226.98 200.92 L227.65 201.41 L228.31 201.90 L228.97 202.39 L229.64 202.87 L230.30 203.35 L230.97 203.82 L231.64 204.29 L232.31 204.76 L232.97 205.22 L233.64 205.68 L234.31 206.13 L234.98 206.58 L235.64 207.03 L236.31 207.47 L236.98 207.92 L237.65 208.35 L238.31 208.79 L238.98 209.22 L239.65 209.65 L240.32 210.07 L240.98 210.49 L241.65 210.91 L242.32 211.32 L242.99 211.74 L243.65 212.14 L244.32 212.55 L244.99 212.95 L245.66 213.35 L246.32 213.74 L246.99 214.14 L247.66 214.52 L248.33 214.91 L248.99 215.29 L249.66 215.67 L250.33 216.05 L251.00 216.42 L251.66 216.79 L252.33 217.16 L253.00 217.53 L253.67 217.89 L254.34 218.25 L255.00 218.60 L255.67 218.95 L256.34 219.30 L257.01 219.65 L257.67 220.00 L258.34 220.34 L259.01 220.68 L259.68 221.01 L260.34 221.34 L261.01 221.67 L261.68 222.00 L262.35 222.33 L263.01 222.65 L263.68 222.97 L264.35 223.28 L265.02 223.60 L265.68 223.91 L266.35 224.22 L267.02 224.52 L267.69 224.83 L268.35 225.13 L269.02 225.43 L269.69 225.72 L270.36 226.01 L271.02 226.30 L271.69 226.59 L272.36 226.88 L273.03 227.16 L273.70 227.44 L274.36 227.72 L275.03 228.00 L275.70 228.27 L276.37 228.54 L277.03 228.81 L277.70 229.08 L278.37 229.34 L279.04 229.60 L279.70 229.86 L280.37 230.12 L281.04 230.38 L281.71 230.63 L282.37 230.88 L283.04 231.13 L283.71 231.37 L284.38 231.62 L285.04 231.86 L285.71 232.10 L286.38 232.34 L287.05 232.57 L287.71 232.81 L288.38 233.04 L289.05 233.27 L289.72 233.50 L290.38 233.72 L291.05 233.94 L291.72 234.17 L292.39 234.39 L293.06 234.60 L293.72 234.82 L294.39 235.03 L295.06 235.24 L295.73 235.45 L296.39 235.66 L297.06 235.87 L297.73 236.07 L298.40 236.27 L299.06 236.47 L299.73 236.67 L300.40 236.87 L301.07 237.07 L301.75 237.27 L302.42 237.46 L303.09 237.65 L303.76 237.84 L304.44 238.03 L305.11 238.22 L305.78 238.41 L306.45 238.59 L307.13 238.77 L307.80 238.96 L308.47 239.14 L309.14 239.31 L309.81 239.49 L310.49 239.66 L311.16 239.84 L311.83 240.01 L312.50 240.18 L313.18 240.34 L313.85 240.51 L314.52 240.68 L315.19 240.84 L315.87 241.00 L316.54 241.16 L317.21 241.32 L317.88 241.48 L318.56 241.63 L319.23 241.79 L319.90 241.94 L320.57 242.09 L321.25 242.24 L321.92 242.39 L322.59 242.54 L323.26 242.68 L323.93 242.83 L324.61 242.97 L325.28 243.11 L325.95 243.25 L326.62 243.39 L327.30 243.53 L327.97 243.66 L328.64 243.80 L329.31 243.93 L329.99 244.06 L330.66 244.19 L331.33 244.32 L332.00 244.45 L332.68 244.58 L333.35 244.70 L334.02 244.83 L334.69 244.95 L335.37 245.08 L336.04 245.20 L336.71 245.32 L337.38 245.44 L338.05 245.55 L338.73 245.67 L339.40 245.78 L340.07 245.90 L340.74 246.01 L341.42 246.12 L342.09 246.23 L342.76 246.34 L343.43 246.45 L344.11 246.56 L344.78 246.67 L345.45 246.77 L346.12 246.88 L346.80 246.98 L347.47 247.08 L348.14 247.19 L348.81 247.29 L349.49 247.39 L350.16 247.48 L350.83 247.58 L351.50 247.68 L352.17 247.77 L352.85 247.87 L353.52 247.96 L354.19 248.06 L354.86 248.15 L355.54 248.24 L356.21 248.33 L356.88 248.42 L357.55 248.51 L358.23 248.59 L358.90 248.68 L359.57 248.77 L360.24 248.85 L360.92 248.94 L361.59 249.02 L362.26 249.10 L362.93 249.18 L363.61 249.26 L364.28 249.34 L364.95 249.42 L365.62 249.50 L366.29 249.58 L366.97 249.66 L367.64 249.73 L368.31 249.81 L368.98 249.88 L369.66 249.96 L370.33 250.03 L371.00 250.10 L371.67 250.17 L372.35 250.24 L373.02 250.31 L373.69 250.38 L374.36 250.45 L375.04 250.52 L375.71 250.59 L376.38 250.65 L377.05 250.72 L377.73 250.79 L378.40 250.85 L379.07 250.92 L379.74 250.98 L380.42 251.04 L381.09 251.10 L381.76 251.17 L382.43 251.23 L383.10 251.29 L383.78 251.35 L384.45 251.41 L385.12 251.47 L385.79 251.52 L386.47 251.58 L387.14 251.64 L387.81 251.70 L388.48 251.75 L389.16 251.81 L389.83 251.86 L390.50 251.92 L391.17 251.97 L391.85 252.02 L392.52 252.08 L393.19 252.13 L393.86 252.18 L394.54 252.23 L395.21 252.28 L395.88 252.33 L396.55 252.38 L397.22 252.43 L397.90 252.48 L398.57 252.53 L399.24 252.57 L399.91 252.62 L400.59 252.67 L401.26 252.71 L401.93 252.76 L402.60 252.80 L403.28 252.85 L403.95 252.89 L404.62 252.94 L405.29 252.98 L405.97 253.02 L406.64 253.07 L407.31 253.11 L407.98 253.15 L408.66 253.19 L409.33 253.23 L410.00 253.27" stroke="#800080" stroke-dasharray="6 2.25 1 1.55"/>
</g>
<text x="51.6" y="264.40" text-anchor="end">0</text>
<text x="51.6" y="216.10" text-anchor="end">2</text>
<text x="51.6" y="167.80" text-anchor="end">4</text>
<text x="51.6" y="119.50" text-anchor="end">6</text>
<text x="51.6" y="71.20" text-anchor="end">8</text>
<text x="51.6" y="22.90" text-anchor="end">10</text>
<text x="62.30" y="279.8" text-anchor="middle">0</text>
<text x="149.68" y="279.8" text-anchor="middle">0.5</text>
<text x="237.05" y="279.8" text-anchor="middle">1</text>
<text x="324.43" y="279.8" text-anchor="middle">1.5</text>
<text x="411.80" y="279.8" text-anchor="middle">2</text>
<text x="342.6" y="34.20" text-anchor="end">10</text>
<text transform="translate(318.45 35.40) scale(1.12 1)">=</text>
<text class="i" x="307.55" y="34.20">a</text>
<path d="M352 29.50 H392" stroke="#ff0000" stroke-width="2" fill="none"/>
<text x="342.6" y="49.20" text-anchor="end">25</text>
<text transform="translate(318.45 50.40) scale(1.12 1)">=</text>
<text class="i" x="307.55" y="49.20">a</text>
<path d="M352 44.67 H392" stroke="#008000" stroke-width="2" fill="none" stroke-dasharray="6 3.1"/>
<text x="342.6" y="64.20" text-anchor="end">100</text>
<text transform="translate(311.20 65.40) scale(1.12 1)">=</text>
<text class="i" x="300.30" y="64.20">a</text>
<path d="M352 59.84 H392" stroke="#000080" stroke-width="2" fill="none" stroke-dasharray="3 3.05"/>
<text x="342.6" y="79.20" text-anchor="end">500</text>
<text transform="translate(311.20 80.40) scale(1.12 1)">=</text>
<text class="i" x="300.30" y="79.20">a</text>
<path d="M352 75.01 H392" stroke="#800080" stroke-width="2" fill="none" stroke-dasharray="6 2.25 1 1.55"/>
<text x="203.3" y="302.5"><tspan class="i">k</tspan><tspan x="221.1">/</tspan><tspan x="229.2" class="i">m</tspan><tspan x="244.4" class="i">a</tspan><tspan x="252.85" y="295.1" class="s">1/2</tspan></text>
<path d="M213.8 298.8 v8 M210.2 306.8 h7.3" stroke="#222" stroke-width="0.9" fill="none"/>
<g transform="translate(20.3 194.9) rotate(-90)">
<text x="0" y="0"><tspan class="i" x="-0.4">m</tspan><tspan class="i" x="14">a</tspan><tspan class="s" x="22.2" y="-8.5">1/2</tspan><tspan class="i" x="41" y="0">k</tspan><tspan class="i" x="59.5" y="0">C</tspan><tspan style="font-size:12.4px" x="70.2" y="4.0">adj</tspan><tspan x="85.2" y="0">(</tspan><tspan class="i" x="90.7" y="0">k</tspan><tspan x="108.1" y="0">)</tspan></text>
<path d="M51.5 -3.9 V4.1 M47.85 4.1 h7.3" stroke="#222" stroke-width="0.8" fill="none"/>
<path d="M99.8 -3.9 V4.1 M96.15 4.1 h7.3" stroke="#222" stroke-width="0.8" fill="none"/>
</g>
</svg></body></html>
